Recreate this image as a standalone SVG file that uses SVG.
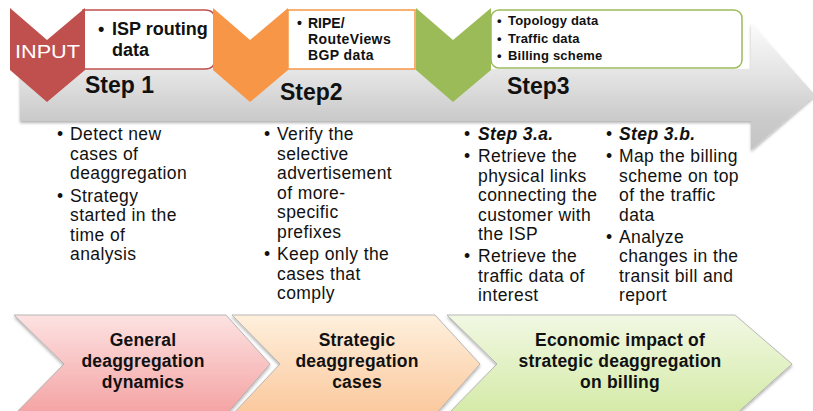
<svg xmlns="http://www.w3.org/2000/svg" width="813" height="411" viewBox="0 0 813 411">
<defs>
<style>
text{font-family:"Liberation Sans",Arial,sans-serif;fill:#111}
.b{font-weight:bold}
.body{font-size:17.5px;letter-spacing:0.4px}
.step{font-size:23px;font-weight:bold}
.bot{font-size:17.5px;font-weight:bold;text-anchor:middle;letter-spacing:0.2px}
.bot-shape{stroke:#a9a9a9;stroke-width:0.8}
</style>
<linearGradient id="gGray" gradientUnits="userSpaceOnUse" x1="0" y1="23" x2="0" y2="150">
<stop offset="0" stop-color="#fbfbfb"/>
<stop offset="0.4" stop-color="#e4e4e4"/>
<stop offset="0.75" stop-color="#cbcbcb"/>
<stop offset="1" stop-color="#c4c4c4"/>
</linearGradient>
<linearGradient id="gPink" x1="0" y1="0" x2="0" y2="1">
<stop offset="0" stop-color="#fde2e2"/>
<stop offset="1" stop-color="#f4a2a2"/>
</linearGradient>
<linearGradient id="gPeach" x1="0" y1="0" x2="0" y2="1">
<stop offset="0" stop-color="#fef0dd"/>
<stop offset="1" stop-color="#fbc89c"/>
</linearGradient>
<linearGradient id="gGreen" x1="0" y1="0" x2="0" y2="1">
<stop offset="0" stop-color="#f1f8e3"/>
<stop offset="1" stop-color="#d4eaa6"/>
</linearGradient>
<filter id="sh" x="-5%" y="-10%" width="110%" height="130%">
<feDropShadow dx="0" dy="2" stdDeviation="1.5" flood-color="#000" flood-opacity="0.3"/>
</filter>
</defs>
<rect width="813" height="411" fill="#fff"/>

<g id="process-arrow">
<path d="M20,69 H751 V23 L815,95 L751,150 V121 H20 Z" fill="url(#gGray)" filter="url(#sh)"/>
</g>

<g id="input-box">
<path d="M83,10 H205 Q215,10 215,20 V59 Q215,69 205,69 H83 Z" fill="#fff" stroke="#c0504d" stroke-width="1.5"/>
<text class="b" x="98" y="35" font-size="18">•</text>
<text class="b" x="112" y="35" font-size="18">ISP routing</text>
<text class="b" x="112" y="56" font-size="18">data</text>
</g>
<g id="input-chevron">
<path d="M10,8 L47,40 L85,8 V70 L47,102 L10,70 Z" fill="#c0504d"/>
<text x="15" y="58" font-size="18" textLength="65" lengthAdjust="spacingAndGlyphs" style="fill:#fff">INPUT</text>
</g>
<g id="step1-label">
<text class="step" x="85" y="93">Step 1</text>
</g>

<g id="ripe-box">
<rect x="288" y="10" width="127" height="59" fill="#fff" stroke="#f79646" stroke-width="1.5"/>
<text class="b" x="297" y="28" font-size="14">•</text>
<text class="b" x="308" y="28" font-size="14">RIPE/</text>
<text class="b" x="308" y="44" font-size="14" letter-spacing="0.4">RouteViews</text>
<text class="b" x="308" y="60" font-size="14" letter-spacing="0.4">BGP data</text>
</g>
<g id="step2-chevron">
<path d="M213,8 L250,40 L288,8 V70 L250,102 L213,70 Z" fill="#f79646"/>
</g>
<g id="step2-label">
<text class="step" x="280" y="100">Step2</text>
</g>

<g id="data-box">
<rect x="491" y="10" width="251" height="58" rx="8" fill="#fff" stroke="#9bbb59" stroke-width="1.5"/>
<text class="b" x="497" y="25" font-size="13">•</text>
<text class="b" x="508" y="25" font-size="13" letter-spacing="0.2">Topology data</text>
<text class="b" x="497" y="43" font-size="13">•</text>
<text class="b" x="508" y="43" font-size="13" letter-spacing="0.2">Traffic data</text>
<text class="b" x="497" y="60" font-size="13">•</text>
<text class="b" x="508" y="60" font-size="13" letter-spacing="0.2">Billing scheme</text>
</g>
<g id="step3-chevron">
<path d="M416,8 L453,40 L491,8 V70 L453,102 L416,70 Z" fill="#9bbb59"/>
</g>
<g id="step3-label">
<text class="step" x="507" y="94">Step3</text>
</g>

<g id="col1">
<text class="body" x="57" y="140">•</text>
<text class="body" x="70" y="140">Detect new</text>
<text class="body" x="70" y="159.5">cases of</text>
<text class="body" x="70" y="179">deaggregation</text>
<text class="body" x="57" y="201.5">•</text>
<text class="body" x="70" y="201.5">Strategy</text>
<text class="body" x="70" y="221">started in the</text>
<text class="body" x="70" y="240.5">time of</text>
<text class="body" x="70" y="260">analysis</text>
</g>

<g id="col2">
<text class="body" x="264" y="140">•</text>
<text class="body" x="277" y="140">Verify the</text>
<text class="body" x="277" y="159.5">selective</text>
<text class="body" x="277" y="179">advertisement</text>
<text class="body" x="277" y="198.5">of more-</text>
<text class="body" x="277" y="218">specific</text>
<text class="body" x="277" y="237.5">prefixes</text>
<text class="body" x="264" y="260">•</text>
<text class="body" x="277" y="260">Keep only the</text>
<text class="body" x="277" y="279.5">cases that</text>
<text class="body" x="277" y="299">comply</text>
</g>

<g id="col3">
<text class="body" x="464" y="140">•</text>
<text class="body b" x="478" y="140" font-style="italic">Step 3.a.</text>
<text class="body" x="464" y="162">•</text>
<text class="body" x="478" y="162">Retrieve the</text>
<text class="body" x="478" y="181.5">physical links</text>
<text class="body" x="478" y="201">connecting the</text>
<text class="body" x="478" y="220.5">customer with</text>
<text class="body" x="478" y="240">the ISP</text>
<text class="body" x="464" y="262">•</text>
<text class="body" x="478" y="262">Retrieve the</text>
<text class="body" x="478" y="281.5">traffic data of</text>
<text class="body" x="478" y="301">interest</text>
</g>

<g id="col4">
<text class="body" x="606" y="140">•</text>
<text class="body b" x="619" y="140" font-style="italic">Step 3.b.</text>
<text class="body" x="606" y="162">•</text>
<text class="body" x="619" y="162">Map the billing</text>
<text class="body" x="619" y="181.5">scheme on top</text>
<text class="body" x="619" y="201">of the traffic</text>
<text class="body" x="619" y="220.5">data</text>
<text class="body" x="606" y="242.5">•</text>
<text class="body" x="619" y="242.5">Analyze</text>
<text class="body" x="619" y="262">changes in the</text>
<text class="body" x="619" y="281.5">transit bill and</text>
<text class="body" x="619" y="301">report</text>
</g>

<g id="general-dynamics">
<path class="bot-shape" d="M14,315 H226 L270,364 L226,415 H14 L64,364 Z" fill="url(#gPink)" filter="url(#sh)"/>
<text class="bot" x="143" y="346">General</text>
<text class="bot" x="143" y="367">deaggregation</text>
<text class="bot" x="143" y="388">dynamics</text>
</g>

<g id="strategic-cases">
<path class="bot-shape" d="M232,315 H435 L480,364 L435,415 H232 L280,364 Z" fill="url(#gPeach)" filter="url(#sh)"/>
<text class="bot" x="357" y="346">Strategic</text>
<text class="bot" x="357" y="367">deaggregation</text>
<text class="bot" x="357" y="388">cases</text>
</g>

<g id="economic-impact">
<path class="bot-shape" d="M447,315 H735 L792,364 L735,415 H447 L497,364 Z" fill="url(#gGreen)" filter="url(#sh)"/>
<text class="bot" x="620" y="346">Economic impact of</text>
<text class="bot" x="620" y="367">strategic deaggregation</text>
<text class="bot" x="620" y="388">on billing</text>
</g>
</svg>
